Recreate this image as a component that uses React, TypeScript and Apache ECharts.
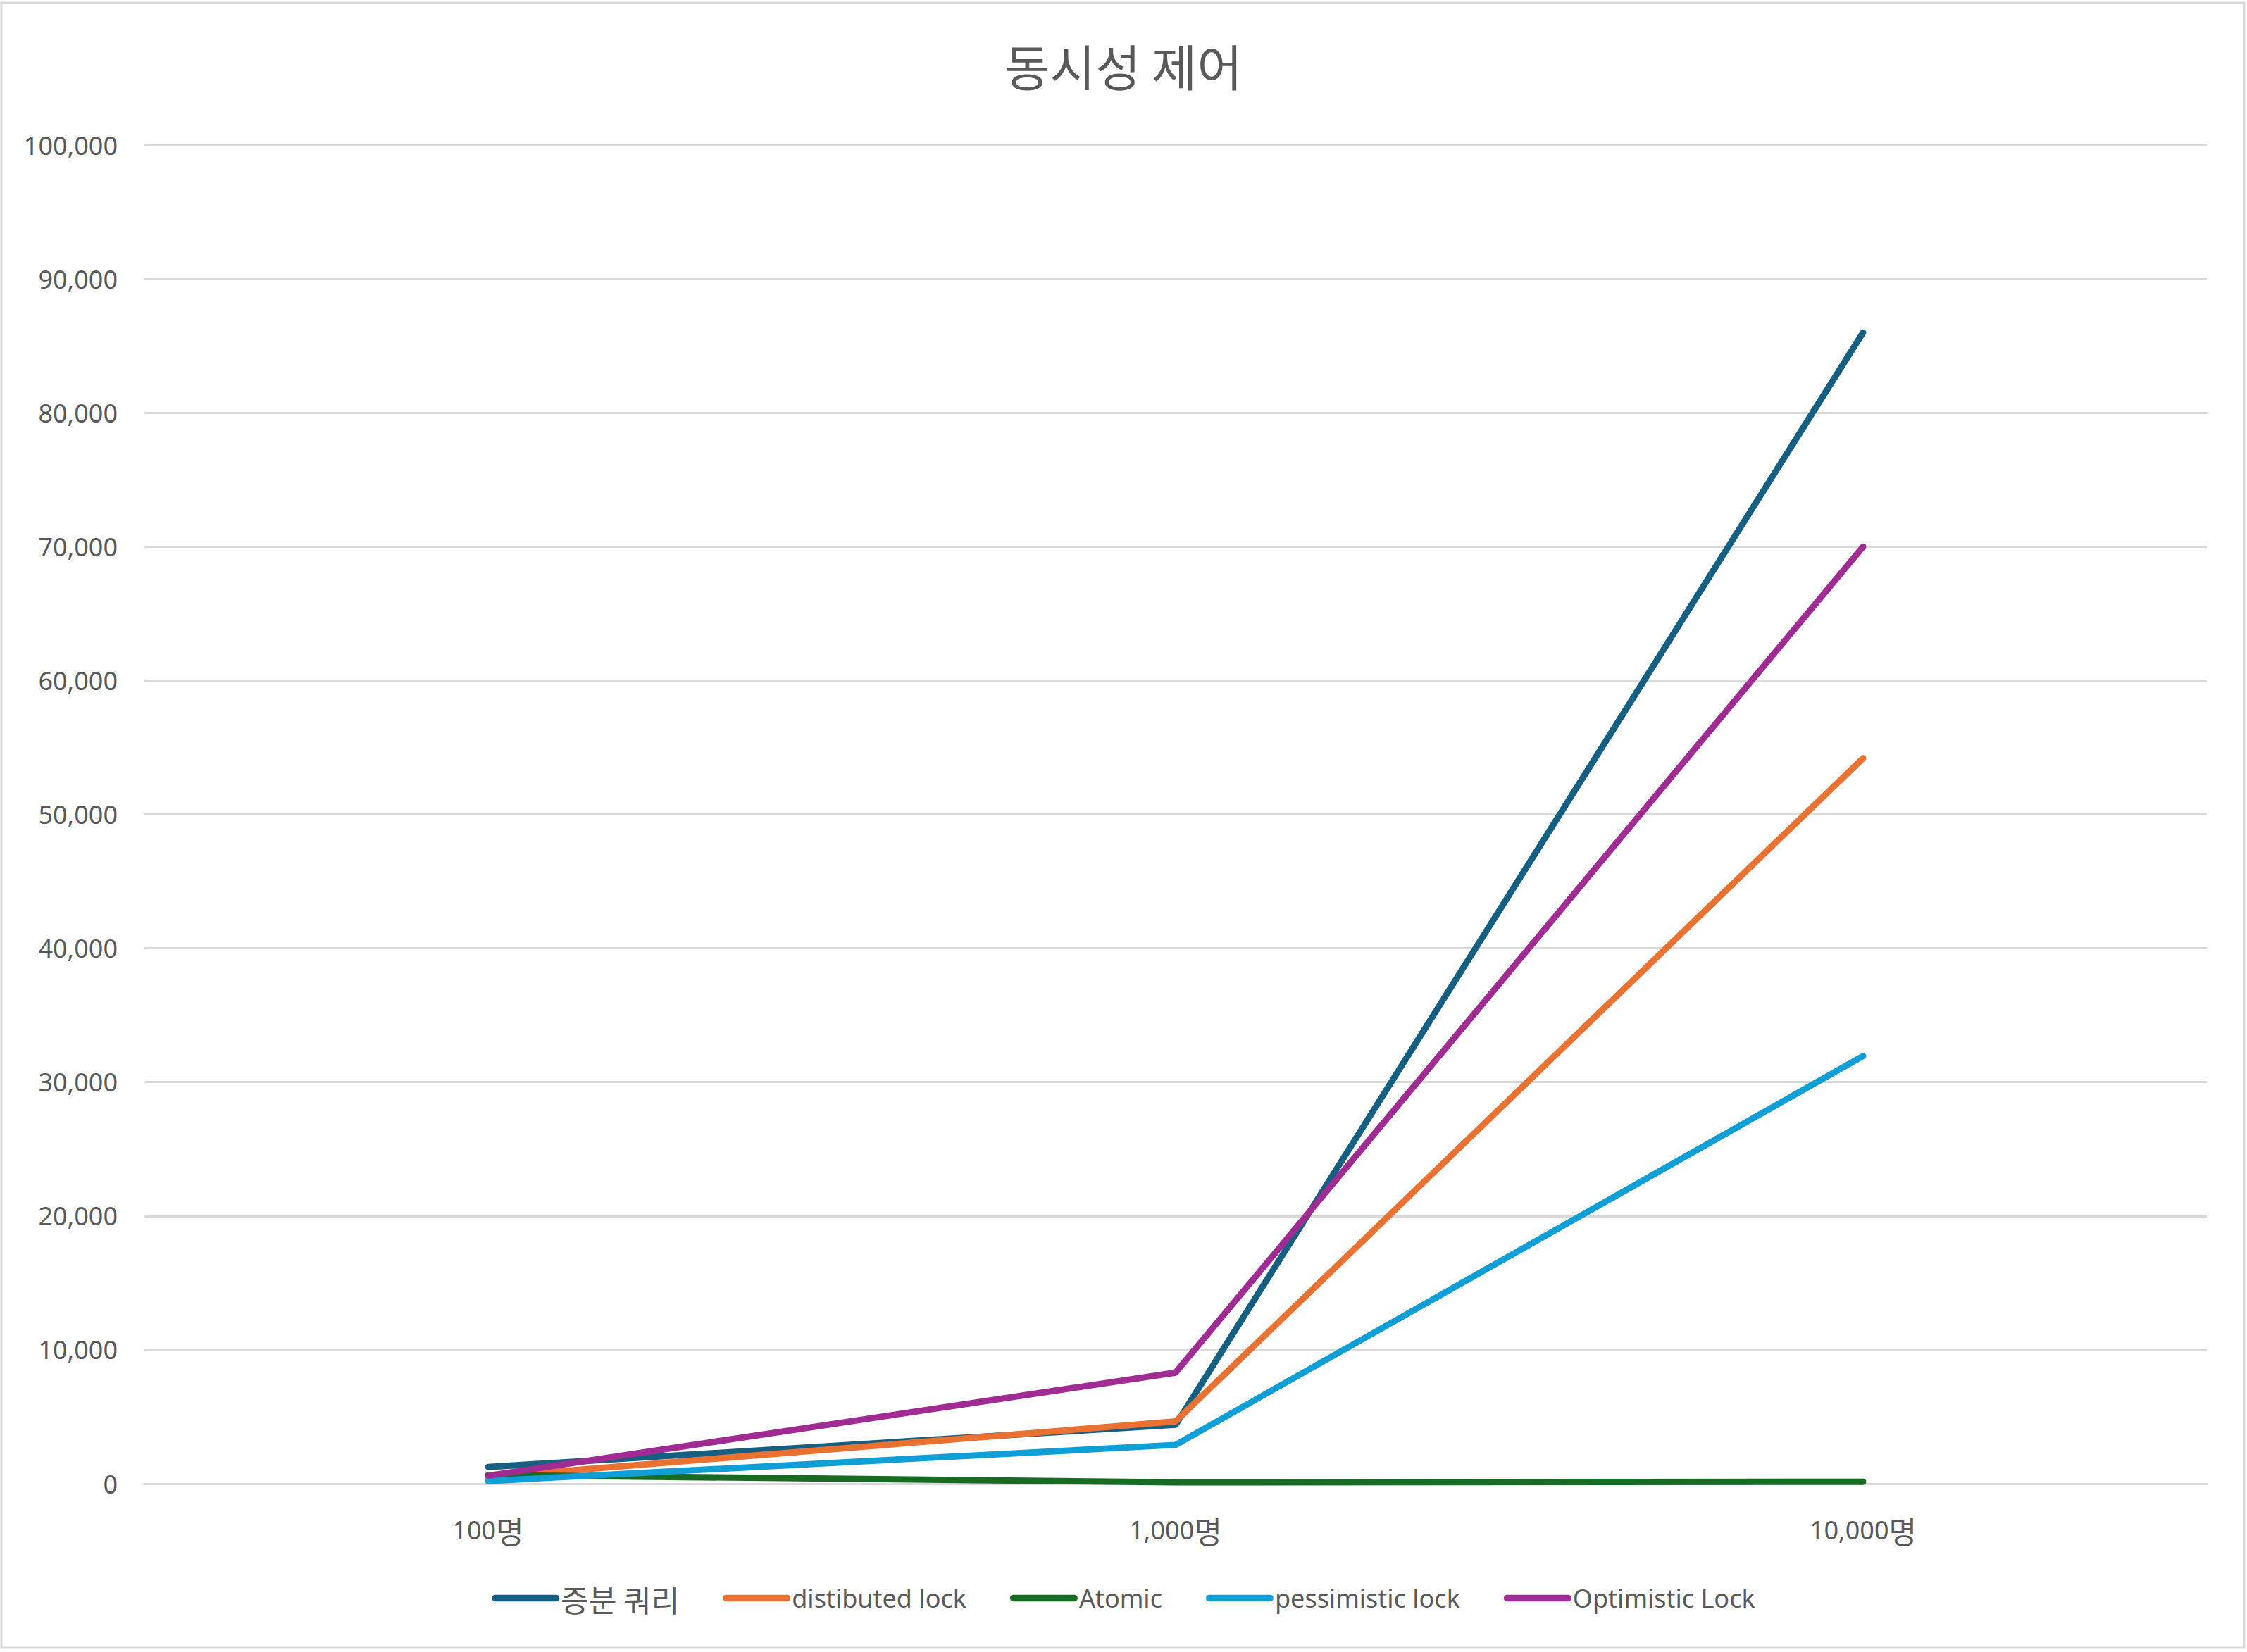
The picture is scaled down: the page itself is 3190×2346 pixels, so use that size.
import React, { useEffect, useRef } from "react";
import * as echarts from "echarts";

const categories = ["100명", "1,000명", "10,000명"];
const seriesNames = ["증분 쿼리", "distibuted lock", "Atomic", "pessimistic lock", "Optimistic Lock"];
const incrementQuery = [1250, 4400, 86000];
const distributedLock = [500, 4650, 54200];
const atomic = [650, 100, 150];
const pessimisticLock = [200, 2900, 31950];
const optimisticLock = [600, 8300, 70000];
const colors = ["#156082", "#E97132", "#196B24", "#0F9ED5", "#A02B93"];
const yMin = 0;
const yMax = 100000;
const yInterval = 10000;

const FONT = "'Noto Sans', 'Noto Sans CJK KR', sans-serif";
const KFONT = "'Noto Sans CJK KR', sans-serif";
const TEXT = "#595959";

const hangulRe = /([\uAC00-\uD7A3]+(?:\s[\uAC00-\uD7A3]+)*)/g;
const wrapHangul = (s: string) => s.replace(hangulRe, "{k|$1}");

export default function App() {
  const ref = useRef<HTMLDivElement>(null);
  useEffect(() => {
    document.body.style.margin = "0";
    if (!ref.current) return;
    const chart = echarts.init(ref.current, null, { renderer: "svg" });
    const values = [incrementQuery, distributedLock, atomic, pessimisticLock, optimisticLock];
    const kRich = { k: { fontFamily: KFONT, fontSize: 43, color: TEXT } };
    chart.setOption({
      animation: false,
      backgroundColor: "#ffffff",
      color: colors,
      title: {
        text: "동시성 제어",
        left: "center",
        top: 52,
        textStyle: { fontFamily: KFONT, fontSize: 70, fontWeight: "normal", color: TEXT },
      },
      graphic: [
        {
          type: "rect",
          shape: { x: 2, y: 4, width: 3184, height: 2336 },
          style: { fill: "none", stroke: "#D9D9D9", lineWidth: 3 },
          silent: true,
        },
      ],
      grid: { left: 205, right: 57, top: 206, bottom: 239, containLabel: false },
      xAxis: {
        type: "category",
        data: categories,
        boundaryGap: true,
        axisLine: { show: true, lineStyle: { color: "#D9D9D9", width: 3 } },
        axisTick: { show: false },
        axisLabel: {
          fontFamily: FONT,
          fontSize: 36,
          color: TEXT,
          margin: 44,
          formatter: (v: string) => wrapHangul(v),
          rich: kRich,
        },
      },
      yAxis: {
        type: "value",
        min: yMin,
        max: yMax,
        interval: yInterval,
        axisLine: { show: false },
        axisTick: { show: false },
        splitLine: { lineStyle: { color: "#D9D9D9", width: 3 } },
        axisLabel: {
          fontFamily: FONT,
          fontSize: 36,
          color: TEXT,
          margin: 38,
          formatter: (v: number) => v.toLocaleString("en-US"),
        },
      },
      legend: {
        data: seriesNames,
        bottom: 50,
        left: "center",
        itemWidth: 96,
        itemHeight: 10,
        itemGap: 62,
        icon: "path://M5,0 L95,0 A5,5 0 0 1 95,10 L5,10 A5,5 0 0 1 5,0 Z",
        formatter: (name: string) => wrapHangul(name),
        textStyle: { fontFamily: FONT, fontSize: 36, color: TEXT, padding: [0, 0, 0, -3], rich: kRich },
      },
      series: seriesNames.map((name, i) => ({
        name,
        type: "line",
        data: values[i],
        showSymbol: false,
        symbol: "none",
        lineStyle: { width: 9, color: colors[i], cap: "round", join: "round" },
        itemStyle: { color: colors[i] },
      })),
    });
    return () => chart.dispose();
  }, []);
  return <div ref={ref} style={{ width: 3190, height: 2346 }} />;
}
